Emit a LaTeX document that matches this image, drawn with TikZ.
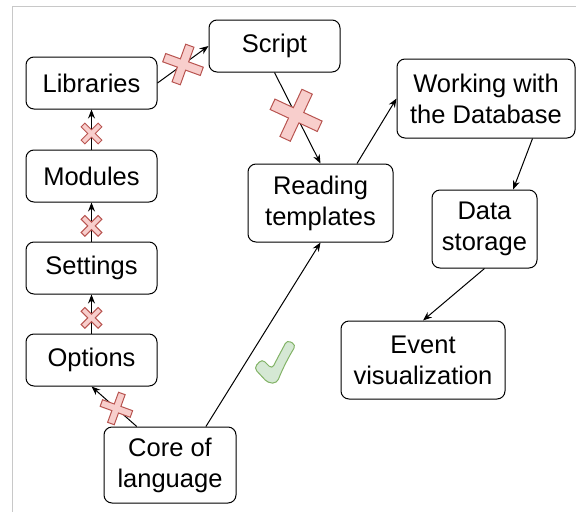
\documentclass[tikz,border=0pt]{standalone}
\usepackage{fontspec}
\setmainfont{Liberation Sans}
\usetikzlibrary{arrows.meta, positioning, calc}

\definecolor{crossfill}{HTML}{F8CECC}
\definecolor{crossline}{HTML}{B85450}
\definecolor{tickfill}{HTML}{D5E8D4}
\definecolor{tickline}{HTML}{82B366}
\definecolor{framegray}{HTML}{C8C8C8}

\tikzset{
  nocross/.pic={
    \draw[crossline, fill=crossfill, line width=1pt]
      (-1,-0.22) -- (-0.22,-0.22) -- (-0.22,-1) -- (0.22,-1) -- (0.22,-0.22) -- (1,-0.22)
      -- (1,0.22) -- (0.22,0.22) -- (0.22,1) -- (-0.22,1) -- (-0.22,0.22) -- (-1,0.22) -- cycle;
  }
}

\begin{document}
\begin{tikzpicture}[x=1pt, y=-1pt, >={Stealth[length=9pt,width=7pt]},
    box/.style={draw, rounded corners=8pt, line width=1pt, fill=white, align=center,
      inner sep=0pt, font=\fontsize{25.5}{31}\selectfont},
    small/.style={box, minimum width=131pt, minimum height=52pt},
    tall/.style={box, minimum height=78pt},
    link/.style={->, line width=1pt}]
    \useasboundingbox (0,0) rectangle (576,512);

    % Frame
    \draw[framegray, line width=1pt] (576,6) -- (12,6) -- (12,512);

    % Nodes
    \node (options) [small] at (91.5,360) {Options};
    \node (settings) [small, above=39pt of options] {Settings};
    \node (modules) [small, above=39pt of settings] {Modules};
    \node (libraries) [small, above=40pt of modules] {Libraries};
    \node (script) [small] at (274.5,46) {Script};
    \node (reading) [tall, minimum width=145pt] at (320.5,203) {Reading\\templates};
    \node (working) [tall, minimum width=178pt, minimum height=79pt] at (486,98.5) {Working with\\the Database};
    \node (storage) [tall, minimum width=105pt] at (484.5,229) {Data\\storage};
    \node (event) [tall, minimum width=164pt] at (423,360) {Event\\visualization};
    \node (core) [tall, minimum width=132pt, minimum height=76pt] at (170,465) {Core of\\language};

    % Connections
    \draw[link] ($(core.north west)!0.25!(core.north east)$) -- (options.south);
    \draw[link] (options) -- (settings);
    \draw[link] (settings) -- (modules);
    \draw[link] (modules) -- (libraries);
    \draw[link] (libraries.east) -- (script.west);
    \draw[link] (script.south) -- (reading.north);
    \draw[link] ($(core.north west)!0.77!(core.north east)$) -- (reading.south);
    \draw[link] ($(reading.north west)!0.75!(reading.north east)$) -- (working.west);
    \draw[link] ($(working.south west)!0.76!(working.south east)$) -- ($(storage.north west)!0.77!(storage.north east)$);
    \draw[link] (storage.south) -- (event.north);

    % Marks
    \pic[rotate=-20, scale=20] at ($(libraries.east)!0.5!(script.west)$) {nocross};
    \pic[rotate=-25, scale=26] at ($(script.south)!0.47!(reading.north)$) {nocross};
    \pic[rotate=45, scale=12] at ($(libraries.south)!0.6!(modules.north)$) {nocross};
    \pic[rotate=45, scale=12] at ($(modules.south)!0.6!(settings.north)$) {nocross};
    \pic[rotate=45, scale=12] at ($(settings.south)!0.6!(options.north)$) {nocross};
    \pic[rotate=-20, scale=16] at ($(core.north west)!0.25!(core.north east)!0.45!(options.south)$) {nocross};
    \draw[tickline, fill=tickfill, line width=1pt, rounded corners=4pt]
      (254,368) -- (262,359) -- (272,369) .. controls (278,357) and (283,348) .. (287,340)
      -- (296,345) .. controls (288,358) and (282,370) .. (277,383) -- (268,383) -- cycle;

\end{tikzpicture}
\end{document}
